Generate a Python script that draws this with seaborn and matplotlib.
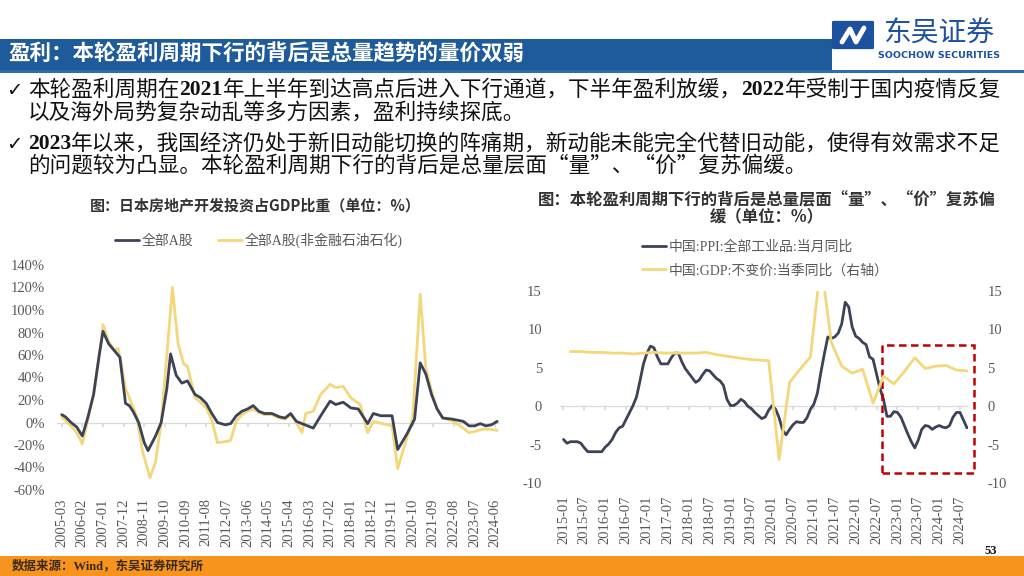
import matplotlib
matplotlib.use("Agg")
import matplotlib.pyplot as plt
import seaborn as sns
import numpy as np
import pandas as pd
from matplotlib.patches import Rectangle, FancyBboxPatch
from matplotlib.lines import Line2D

# ---------------- data ----------------
# Left chart: 全部A股 / 全部A股(非金融石油石化) (values in %)
a_dates = ['2005-03', '2005-05', '2005-08', '2005-11', '2006-02', '2006-05', '2006-08', '2006-11',
           '2007-01', '2007-04', '2007-07', '2007-10', '2008-01', '2008-03', '2008-05', '2008-08',
           '2008-11', '2009-01', '2009-05', '2009-08', '2009-11', '2010-01', '2010-04', '2010-07',
           '2010-10', '2011-02', '2011-05', '2011-08', '2011-11', '2012-02', '2012-06', '2012-09',
           '2012-12', '2013-03', '2013-06', '2013-09', '2013-12', '2014-03', '2014-07', '2014-11',
           '2015-02', '2015-05', '2015-08', '2015-11', '2016-02', '2016-05', '2016-09', '2017-02',
           '2017-05', '2017-09', '2018-01', '2018-05', '2018-10', '2019-01', '2019-05', '2019-11',
           '2020-02', '2020-07', '2020-11', '2021-02', '2021-05', '2021-08', '2021-11', '2022-02',
           '2022-07', '2023-01', '2023-04', '2023-07', '2023-10', '2024-01', '2024-04', '2024-07']
a_vals = [7, 5, 0, -4, -12, 5, 25, 60,
          81, 70, 64, 58, 17, 15, 10, 0,
          -18, -25, -12, 0, 30, 61, 42, 35,
          37, 25, 22, 17, 8, 0, -2, -1,
          6, 10, 12, 15, 10, 8, 8, 5,
          4, 8, 1, -1, -3, -5, 6, 19,
          16, 18, 13, 12, -1, 8, 6, 6,
          -24, -10, 3, 53, 43, 25, 12, 4,
          3, 1, -3, -3, -1, -3, -2, 1]

b_dates = ['2005-03', '2005-06', '2005-09', '2005-11', '2006-02', '2006-05', '2006-08', '2006-11',
           '2007-01', '2007-04', '2007-07', '2007-09', '2007-11', '2008-01', '2008-04', '2008-07',
           '2008-10', '2009-02', '2009-05', '2009-08', '2009-11', '2010-02', '2010-05', '2010-08',
           '2010-10', '2011-02', '2011-05', '2011-08', '2011-11', '2012-02', '2012-06', '2012-09',
           '2012-12', '2013-03', '2013-06', '2013-09', '2013-12', '2014-03', '2014-07', '2014-11',
           '2015-02', '2015-05', '2015-08', '2015-11', '2016-01', '2016-05', '2016-09', '2017-02',
           '2017-05', '2017-09', '2018-01', '2018-06', '2018-10', '2019-01', '2019-06', '2019-11',
           '2020-02', '2020-07', '2020-10', '2021-02', '2021-05', '2021-08', '2021-11', '2022-02',
           '2022-07', '2023-01', '2023-04', '2023-07', '2023-11', '2024-03', '2024-07']
b_vals = [5, 0, -5, -9, -19, 3, 25, 60,
          87, 72, 64, 66, 50, 30, 18, 5,
          -25, -49, -35, 0, 60, 120, 70, 52,
          50, 22, 18, 13, 2, -18, -17, -16,
          1, 7, 10, 12, 9, 7, 7, 4,
          3, 7, 0, -9, 8, 10, 25, 34,
          31, 32, 22, 16, -9, 1, -1, -3,
          -41, -13, 4, 114, 48, 28, 12, 4,
          1.5, -5, -9, -8, -6, -6, -7]

left_xticklabels = ['2005-03', '2006-02', '2007-01', '2007-12', '2008-11', '2009-10', '2010-09',
                    '2011-08', '2012-07', '2013-06', '2014-05', '2015-04', '2016-03', '2017-02',
                    '2018-01', '2018-12', '2019-11', '2020-10', '2021-09', '2022-08', '2023-07',
                    '2024-06']
left_yticks = [-60, -40, -20, 0, 20, 40, 60, 80, 100, 120, 140]
left_yticklabels = ['-60%', '-40%', '-20%', '0%', '20%', '40%', '60%', '80%', '100%', '120%', '140%']

# Right chart: PPI monthly YoY (2015-01 .. 2024-09), GDP quarterly YoY (2015Q1 .. 2024Q3)
ppi_start = '2015-01'
ppi_vals = [-4.3, -4.8, -4.6, -4.6, -4.6, -4.8, -5.4, -5.9, -5.9, -5.9, -5.9, -5.9,
            -5.3, -4.9, -4.3, -3.4, -2.8, -2.6, -1.7, -0.8, 0.1, 1.2, 3.3, 5.5,
            6.9, 7.8, 7.6, 6.4, 5.5, 5.5, 5.5, 6.3, 6.9, 6.9, 5.8, 4.9,
            4.3, 3.7, 3.1, 3.4, 4.1, 4.7, 4.6, 4.1, 3.6, 3.3, 2.7, 0.9,
            0.1, 0.1, 0.4, 0.9, 0.6, 0.0, -0.3, -0.8, -1.2, -1.6, -1.4, -0.5,
            0.1, -0.4, -1.5, -3.1, -3.7, -3.0, -2.4, -2.0, -2.1, -2.1, -1.5, -0.4,
            0.3, 1.7, 4.4, 6.8, 9.0, 8.8, 9.0, 9.5, 10.7, 13.5, 12.9, 10.3,
            9.1, 8.8, 8.3, 8.0, 6.4, 6.1, 4.2, 2.3, 0.9, -1.3, -1.3, -0.7,
            -0.8, -1.4, -2.5, -3.6, -4.6, -5.4, -4.4, -3.0, -2.5, -2.6, -3.0, -2.7,
            -2.5, -2.7, -2.8, -2.5, -1.4, -0.8, -0.8, -1.8, -2.8]
gdp_start = '2015-03'
gdp_vals = [7.1, 7.1, 7.0, 7.0, 6.9, 6.9, 6.8, 6.9, 7.0, 6.9, 6.9, 6.9,
            6.9, 7.0, 6.7, 6.5, 6.3, 6.1, 6.0, 5.9, -6.9, 3.1, 4.8, 6.4,
            18.7, 8.3, 5.2, 4.3, 4.8, 0.4, 3.9, 2.9, 4.5, 6.3, 4.9, 5.2,
            5.3, 4.7, 4.6]

right_xticklabels = ['2015-01', '2015-07', '2016-01', '2016-07', '2017-01', '2017-07', '2018-01',
                     '2018-07', '2019-01', '2019-07', '2020-01', '2020-07', '2021-01', '2021-07',
                     '2022-01', '2022-07', '2023-01', '2023-07', '2024-01', '2024-07']
right_yticks = [-10, -5, 0, 5, 10, 15]
right_yticklabels = ['-10', '-5', '0', '5', '10', '15']

# ---------------- style ----------------
sns.set_theme(style="white")
SERIF = ['Liberation Serif', 'Noto Sans CJK SC', 'DejaVu Sans']
CJK = ['Noto Sans CJK SC', 'DejaVu Sans']
plt.rcParams['font.family'] = SERIF
plt.rcParams['axes.unicode_minus'] = False

DARK = '#3C4356'
YELLOW = '#F3D77A'
GRAY_TXT = '#595959'
ZERO = '#D9D9D9'


def midx(s, base):
    y, m = map(int, s.split('-'))
    by, bm = map(int, base.split('-'))
    return (y - by) * 12 + (m - bm)


W, H = 1024, 576
fig = plt.figure(figsize=(W / 100, H / 100), dpi=100)
fig.patch.set_facecolor('white')


def fx(px):
    return px / W


def fy(py):
    return 1 - py / H


# ---------------- header ----------------
fig.add_artist(Rectangle((0, fy(70)), fx(832), 31 / H, transform=fig.transFigure,
                         facecolor='#1E5B9B', edgecolor='none'))
fig.add_artist(Rectangle((0, fy(73)), 1, 3 / H, transform=fig.transFigure,
                         facecolor='#2A6DB0', edgecolor='none'))
fig.text(fx(8), fy(54), '盈利：本轮盈利周期下行的背后是总量趋势的量价双弱', color='white',
         fontsize=15.5, fontweight='bold', family=CJK, va='center', ha='left')

# logo
fig.add_artist(FancyBboxPatch((fx(834), fy(48)), 38 / W, 26 / H, transform=fig.transFigure,
                              boxstyle='round,pad=0.002', facecolor='#1E50A0', edgecolor='none'))
fig.add_artist(Line2D([fx(842), fx(850), fx(856), fx(864)], [fy(42), fy(29), fy(42), fy(28)],
                      transform=fig.transFigure, color='white', lw=3.5, solid_capstyle='round'))
fig.text(fx(939), fy(34), '东吴证券', color='#1E50A0', fontsize=20, family=CJK,
         ha='center', va='center')
fig.text(fx(939), fy(56), 'SOOCHOW SECURITIES', color='#1E50A0', fontsize=6.8,
         fontweight='bold', family=['DejaVu Sans'], ha='center', va='center')

# bullet text with mixed runs
renderer = fig.canvas.get_renderer()


def runs(x_px, y_px, parts, size=15.55):
    x = fx(x_px)
    for txt, kind in parts:
        if kind == 'num':
            t = fig.text(x, fy(y_px), txt, fontsize=size, fontweight='bold',
                         family=['Liberation Serif'], va='center', ha='left', color='#111111')
        else:
            t = fig.text(x, fy(y_px), txt, fontsize=size, family=CJK,
                         va='center', ha='left', color='#111111')
        bb = t.get_window_extent(renderer)
        x += bb.width / W


fig.text(fx(6), fy(90), '✓', fontsize=14, family=['DejaVu Sans'], va='center', color='#111111')
fig.text(fx(6), fy(144), '✓', fontsize=14, family=['DejaVu Sans'], va='center', color='#111111')
runs(28, 90, [('本轮盈利周期在', 'c'), ('2021', 'num'),
              ('年上半年到达高点后进入下行通道，下半年盈利放缓，', 'c'), ('2022', 'num'),
              ('年受制于国内疫情反复', 'c')])
runs(28, 113, [('以及海外局势复杂动乱等多方因素，盈利持续探底。', 'c')])
runs(28, 144, [('2023', 'num'),
               ('年以来，我国经济仍处于新旧动能切换的阵痛期，新动能未能完全代替旧动能，使得有效需求不足', 'c')])
runs(28, 166, [('的问题较为凸显。本轮盈利周期下行的背后是总量层面“量”、“价”复苏偏缓。', 'c')])

# footer
fig.add_artist(Rectangle((0, 0), 1, 20 / H, transform=fig.transFigure,
                         facecolor='#F7941E', edgecolor='none'))
fig.text(fx(12), fy(566), '数据来源：Wind，东吴证券研究所', fontsize=9, fontweight='bold',
         family=['Liberation Serif', 'Noto Sans CJK SC'], color='#3A2A1A', va='center')
fig.text(fx(991), fy(551), '53', fontsize=9, fontweight='bold', family=['Liberation Serif'],
         color='#111111', ha='center', va='center')

# ---------------- left chart ----------------
axL = fig.add_axes([fx(57), fy(490), (500 - 57) / W, (490 - 265) / H])
dfa = pd.DataFrame({'m': [midx(d, '2005-03') for d in a_dates], 'v': a_vals})
dfb = pd.DataFrame({'m': [midx(d, '2005-03') for d in b_dates], 'v': b_vals})
axL.axhline(0, color=ZERO, lw=0.9, zorder=1)
sns.lineplot(data=dfb, x='m', y='v', ax=axL, color=YELLOW, lw=2.0, label='全部A股(非金融石油石化)')
sns.lineplot(data=dfa, x='m', y='v', ax=axL, color=DARK, lw=2.0, label='全部A股')
axL.set_xlim(-2.5, 233.5)
axL.set_ylim(-60, 140)
ltick_pos = [midx(s, '2005-03') for s in left_xticklabels]
axL.set_xticks(ltick_pos)
axL.set_xticklabels(left_xticklabels, rotation=90, fontsize=10.5, color=GRAY_TXT)
axL.set_yticks(left_yticks)
axL.set_yticklabels(left_yticklabels, fontsize=10.5, color=GRAY_TXT)
axL.tick_params(axis='both', length=0)
axL.tick_params(axis='x', pad=6)
axL.tick_params(axis='y', pad=9)
axL.set_xlabel('')
axL.set_ylabel('')
for s in axL.spines.values():
    s.set_visible(False)
secL = axL.secondary_xaxis(0.3)
secL.set_xticks(ltick_pos)
secL.tick_params(labelbottom=False, length=3, color=ZERO, direction='out')
secL.spines['bottom'].set_visible(False)
hL, lL = axL.get_legend_handles_labels()
axL.legend([hL[1], hL[0]], [lL[1], lL[0]], loc='center', bbox_to_anchor=(fx(259), fy(240)),
           bbox_transform=fig.transFigure, ncol=2, frameon=False,
           handlelength=1.7, handletextpad=0.2, columnspacing=1.8, borderpad=0,
           labelcolor=GRAY_TXT, prop={'family': SERIF, 'size': 10})
fig.text(fx(255), fy(205), '图：日本房地产开发投资占GDP比重（单位：%）', fontsize=10.8,
         fontweight='bold', family=CJK, ha='center', va='center', color='#333333')

# ---------------- right chart ----------------
axR = fig.add_axes([fx(560), fy(483.3), (968 - 560) / W, (483.3 - 290.7) / H])
n_ppi = [midx(ppi_start, '2015-01') + i for i in range(len(ppi_vals))]
n_gdp = [midx(gdp_start, '2015-01') + 3 * i for i in range(len(gdp_vals))]
dfp = pd.DataFrame({'n': n_ppi, 'v': ppi_vals})
dfg = pd.DataFrame({'n': n_gdp, 'v': gdp_vals})
axR.axhline(0, color=ZERO, lw=0.9, zorder=1)
sns.lineplot(data=dfp, x='n', y='v', ax=axR, color=DARK, lw=2.0, legend=False)
axR2 = axR.twinx()
sns.lineplot(data=dfg, x='n', y='v', ax=axR2, color=YELLOW, lw=2.0, legend=False)
for a in (axR, axR2):
    a.set_xlim(-1, 116.3)
    a.set_ylim(-10, 15)
    a.set_yticks(right_yticks)
    a.set_yticklabels(right_yticklabels, fontsize=10.5, color=GRAY_TXT)
    a.tick_params(axis='both', length=0)
    a.set_xlabel('')
    a.set_ylabel('')
    for s in a.spines.values():
        s.set_visible(False)
axR.tick_params(axis='y', pad=13)
axR2.tick_params(axis='y', pad=14)
rtick_pos = [midx(s, '2015-01') for s in right_xticklabels]
axR.set_xticks(rtick_pos)
axR.set_xticklabels(right_xticklabels, rotation=90, fontsize=10.5, color=GRAY_TXT)
axR.tick_params(axis='x', pad=9)
secR = axR.secondary_xaxis(0.4)
secR.set_xticks(rtick_pos)
secR.tick_params(labelbottom=False, length=3, color=ZERO, direction='out')
secR.spines['bottom'].set_visible(False)

axR.add_patch(Rectangle((91.7, -8.7), 26.4, 16.6, fill=False, edgecolor='#C00000',
                        lw=1.8, linestyle=(0, (3, 1.8)), clip_on=False, zorder=5))

handles = [Line2D([], [], color=DARK, lw=2.0), Line2D([], [], color=YELLOW, lw=2.0)]
labels = ['中国:PPI:全部工业品:当月同比', '中国:GDP:不变价:当季同比（右轴）']
axR2.legend(handles, labels, loc='upper left', bbox_to_anchor=(fx(635), fy(233)),
            bbox_transform=fig.transFigure, ncol=1, frameon=False,
            handlelength=1.7, handletextpad=0.2, labelspacing=0.75, borderpad=0,
            labelcolor=GRAY_TXT, prop={'family': SERIF, 'size': 10})
fig.text(fx(767), fy(200), '图：本轮盈利周期下行的背后是总量层面“量”、“价”复苏偏', fontsize=11.8,
         fontweight='bold', family=CJK, ha='center', va='center', color='#333333')
fig.text(fx(767), fy(216), '缓（单位：%）', fontsize=11.8,
         fontweight='bold', family=CJK, ha='center', va='center', color='#333333')

fig.savefig('out.png', dpi=100)
